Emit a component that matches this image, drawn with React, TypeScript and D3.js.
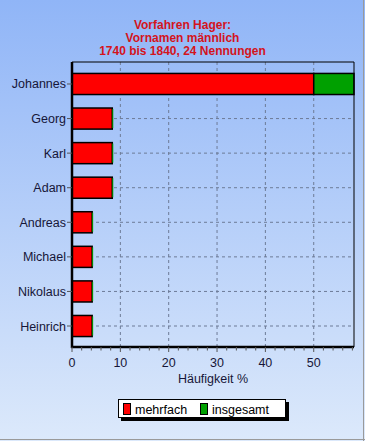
import React from "react";
import * as d3 from "d3";

const names = ["Johannes", "Georg", "Karl", "Adam", "Andreas", "Michael", "Nikolaus", "Heinrich"];
const mehrfach = [50, 8.33, 8.33, 8.33, 4.17, 4.17, 4.17, 4.17];
const insgesamt = [58.33, 8.33, 8.33, 8.33, 4.17, 4.17, 4.17, 4.17];
const xTicks = [0, 10, 20, 30, 40, 50];
const minorTicks = d3.range(0, 58.4, 2);
const titleLines = ["Vorfahren Hager:", "Vornamen männlich", "1740 bis 1840, 24 Nennungen"];
const legendItems = [
  { label: "mehrfach", color: "#ff0000" },
  { label: "insgesamt", color: "#00a000" },
];

const W = 365;
const H = 441;
const L = 72, R = 354, T = 62, B = 347;
const font = "'Liberation Sans', Arial, sans-serif";
const textColor = "#161638";

export default function App() {
  const x = d3.scaleLinear().domain([0, 58.33]).range([L, R]);
  const y = d3.scaleBand().domain(names).range([66.7, 343.3]).paddingInner(0.39).paddingOuter(0.195);
  const bh = y.bandwidth();
  const center = (n: string) => (y(n) as number) + bh / 2;

  return (
    <svg width={W} height={H} style={{ position: "absolute", left: 0, top: 0 }}>
      <defs>
        <linearGradient id="bg" x1="0" y1="0" x2="0" y2="1">
          <stop offset="0" stopColor="#90b5f7" />
          <stop offset="1" stopColor="#dce9fb" />
        </linearGradient>
      </defs>
      <rect x={0} y={0} width={W} height={H} fill="url(#bg)" />
      <line x1={W - 1.5} y1={0} x2={W - 1.5} y2={H} stroke="#9a9a9a" strokeWidth={1} />
      <line x1={0} y1={H - 1.5} x2={W} y2={H - 1.5} stroke="#9a9a9a" strokeWidth={1} />

      {titleLines.map((t, i) => (
        <text key={t} x={W / 2} y={29 + i * 13} textAnchor="middle" fontFamily={font} fontWeight="bold" fontSize={12} fill="#d4141c">
          {t}
        </text>
      ))}

      {/* grid */}
      {xTicks.filter((t) => t > 0).map((t) => (
        <line key={"gx" + t} x1={x(t)} x2={x(t)} y1={T} y2={B} stroke="#6d7b97" strokeDasharray="3,3" strokeWidth={1} />
      ))}
      {names.map((n) => (
        <line key={"gy" + n} x1={L} x2={R} y1={center(n)} y2={center(n)} stroke="#6d7b97" strokeDasharray="3,3" strokeWidth={1} />
      ))}

      {/* bars */}
      {names.map((n, i) => {
        const extra = insgesamt[i] - mehrfach[i];
        const yy = y(n) as number;
        return (
          <g key={"b" + n}>
            <rect x={x(0)} y={yy} width={x(mehrfach[i]) - x(0)} height={bh} fill="#ff0000" stroke="#000" strokeWidth={1.5} />
            {extra > 0 ? (
              <rect x={x(mehrfach[i])} y={yy} width={x(insgesamt[i]) - x(mehrfach[i])} height={bh} fill="#00a000" stroke="#000" strokeWidth={1.5} />
            ) : (
              <line x1={x(insgesamt[i]) + 0.5} x2={x(insgesamt[i]) + 0.5} y1={yy + 1} y2={yy + bh - 1} stroke="#00a000" strokeWidth={1} />
            )}
          </g>
        );
      })}

      {/* frame */}
      <line x1={L} x2={R} y1={T} y2={T} stroke="#000" strokeWidth={1} />
      <line x1={R} x2={R} y1={T} y2={B} stroke="#000" strokeWidth={1} />
      <line x1={L} x2={L} y1={T} y2={B + 1} stroke="#000" strokeWidth={2.5} />
      <line x1={L - 1} x2={R} y1={B} y2={B} stroke="#000" strokeWidth={2.5} />

      {/* y ticks + labels */}
      {names.map((n) => (
        <g key={"yl" + n}>
          <line x1={L - 5} x2={L} y1={center(n)} y2={center(n)} stroke="#555" strokeWidth={1} />
          <text x={L - 6} y={center(n) + 4.5} textAnchor="end" fontFamily={font} fontSize={12.5} fill={textColor}>
            {n}
          </text>
        </g>
      ))}

      {/* x ticks */}
      {minorTicks.map((t) => (
        <line key={"mt" + t} x1={x(t)} x2={x(t)} y1={B} y2={B + (t % 10 === 0 ? 5 : 3.5)} stroke="#555" strokeWidth={1} />
      ))}
      {xTicks.map((t) => (
        <text key={"xl" + t} x={x(t)} y={367} textAnchor="middle" fontFamily={font} fontSize={12.5} fill={textColor}>
          {t}
        </text>
      ))}
      <text x={(L + R) / 2} y={383} textAnchor="middle" fontFamily={font} fontSize={12.5} fill={textColor}>
        Häufigkeit %
      </text>

      {/* legend */}
      <rect x={121} y={402} width={168} height={19} fill="#000" />
      <rect x={118.5} y={399.5} width={167} height={18} fill="#fff" stroke="#000" strokeWidth={1} />
      {legendItems.map((it, i) => {
        const lx = i === 0 ? 123 : 200;
        return (
          <g key={it.label}>
            <rect x={lx + 0.5} y={403.5} width={7} height={11} fill={it.color} stroke="#000" strokeWidth={1} />
            <text x={lx + 12} y={413.5} fontFamily={font} fontSize={12.5} fill="#000">
              {it.label}
            </text>
          </g>
        );
      })}
    </svg>
  );
}
